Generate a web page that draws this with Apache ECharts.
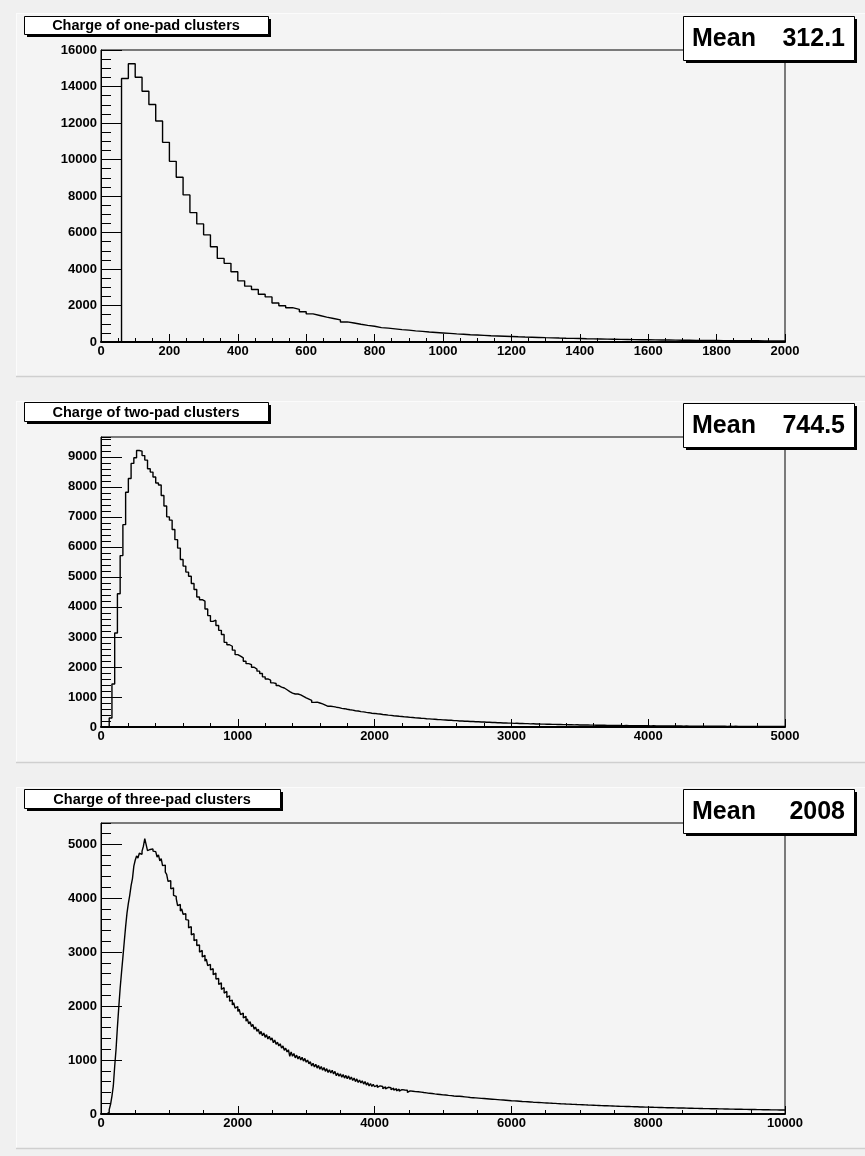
<!DOCTYPE html>
<html><head><meta charset="utf-8">
<script src="https://cdn.jsdelivr.net/npm/echarts@6/dist/echarts.min.js"></script>
<style>html,body{margin:0;padding:0;background:#f0f0f0}#c{width:865px;height:1156px}</style>
</head><body><div id="c"></div><script>
// ---------------- DATA ----------------
const TITLES = ['Charge of one-pad clusters', 'Charge of two-pad clusters', 'Charge of three-pad clusters'];
const MEAN_LABEL = 'Mean';
const MEANS = ['312.1', '744.5', '2008'];
const BIN_WIDTH = [20, 20, 20];
const X_MAX = [2000, 5000, 10000];
const X_MAJOR = [200, 1000, 2000];
const X_MINOR_SPLIT = [4, 5, 4];
const Y_MAX = [16000, 9660, 5390];
const Y_MAJOR = [2000, 1000, 1000];
const Y_MINOR = [500, 200, 200];

const ONE_PAD_COUNTS = [
 0,0,0,14440,15250,14510,13740,13010,12110,10940,
 9900,9030,8060,7090,6470,5870,5220,4580,4310,3850,
 3350,3060,2880,2620,2470,2140,1990,1880,1790,1660,
 1540,1450,1360,1290,1210,1100,1040,970,910,860,
 790,760,720,680,650,610,580,545,520,495,
 470,445,425,400,385,365,345,330,315,300,
 285,272,262,250,238,228,216,206,198,188,
 178,170,163,156,150,143,137,132,126,121,
 116,111,107,102,98,95,91,88,84,81,
 78,75,72,70,67,65,62,60,58,56];

const TWO_PAD_COUNTS = [
 0,0,0,300,1430,3130,4440,5710,6740,7820,
 8280,8780,8970,9210,9190,9040,8890,8600,8490,8330,
 8130,8060,7710,7360,7000,6890,6580,6240,5960,5580,
 5360,5160,5020,4780,4580,4330,4240,4190,3930,3710,
 3520,3560,3380,3220,3080,2820,2740,2690,2560,2410,
 2360,2300,2190,2110,2080,1990,1930,1860,1780,1670,
 1600,1560,1470,1450,1380,1330,1300,1240,1180,1130,
 1100,1100,1070,1020,970,930,890,820,830,800,
 770,730,690,690,680,660,645,620,610,590,
 575,562,541,532,512,503,488,477,460,452,
 440,432,418,410,396,388,376,368,356,350,
 338,333,321,317,304,300,290,286,275,272,
 262,259,248,247,236,234,224,223,213,212,
 202,201,192,192,183,182,174,173,165,165,
 157,157,149,150,142,142,135,136,128,129,
 122,123,116,117,111,112,105,107,100,102,
 95,97,91,93,87,88,82,84,78,80,
 75,77,71,73,68,70,65,67,62,64,
 59,61,56,58,54,55,51,53,49,51,
 47,49,45,47,43,45,41,43,40,41,
 38,40,36,38,35,37,33,35,32,34,
 31,33,30,31,29,30,28,29,27,28,
 26,27,25,26,24,25,23,24,22,24,
 21,23,21,22,20,21,19,21,19,20,
 18,19,18,19,17,18,16,18,16,17];

const THREE_PAD_COUNTS = [
 0,0,0,0,10,30,80,180,330,520,
 880,1200,1610,1980,2330,2620,2900,3190,3470,3720,
 3900,4050,4230,4360,4590,4700,4780,4740,4830,4810,
 4870,4960,5100,4990,4880,4900,4930,4910,4870,4860,
 4850,4760,4800,4690,4730,4600,4610,4480,4440,4310,
 4320,4170,4190,4050,4030,3990,3860,3880,3760,3800,
 3700,3710,3600,3590,3450,3470,3320,3340,3210,3230,
 3120,3130,3000,3030,2910,2940,2830,2870,2750,2770,
 2670,2690,2580,2610,2500,2510,2400,2430,2310,2340,
 2240,2270,2160,2190,2090,2110,2020,2060,1960,1990,
 1900,1940,1840,1870,1780,1810,1720,1760,1670,1710,
 1620,1660,1570,1610,1530,1570,1480,1530,1450,1500,
 1420,1470,1390,1440,1370,1410,1320,1370,1290,1330,
 1260,1300,1220,1260,1180,1220,1150,1190,1070,1150,
 1070,1120,1040,1090,1020,1070,1000,1050,980,1030,
 960,1000,930,970,890,940,870,920,850,900,
 830,880,810,860,790,840,770,820,760,810,
 740,790,710,760,700,745,680,730,665,715,
 655,705,640,685,620,665,600,650,585,630,
 575,615,555,600,535,580,520,565,510,550,
 505,535,495,520,485,510,470,505,465,495,
 458,488,450,478,440,468,430,460,422,452,
 420,445,410,440,400,428,395,422,388,415,
 385,412,378,405,370,398,362,392,358,383,
 352,380,348,372,342,366,335,360,330,354,
 333,352,322,345,318,340,312,334,306,330,
 301,330,296,324,292,318,288,312,285,306,
 280,302,276,298,272,294,268,290,264,286,
 262,282,258,278,254,274,250,270,246,266,
 244,262,240,258,236,254,232,250,229,246,
 226,244,222,240,219,236,216,232,212,229,
 210,226,206,223,203,219,200,216,197,213,
 194,210,191,207,188,204,186,201,183,198,
 181,196,178,193,176,190,173,188,171,185,
 168,183,166,180,164,178,161,175,159,173,
 157,171,155,169,153,166,151,164,149,162,
 147,160,145,158,143,156,141,154,140,152,
 138,150,136,148,135,146,133,144,131,142,
 130,141,128,140,127,138,125,136,124,134,
 122,133,121,131,119,130,118,128,117,127,
 115,126,114,124,113,123,111,121,110,120,
 109,119,108,117,106,116,105,115,104,113,
 103,112,102,111,100,110,99,108,98,107,
 97,106,96,105,95,104,94,103,93,101,
 92,100,91,99,90,98,89,97,88,96,
 87,95,86,94,85,93,84,92,83,91,
 82,90,81,89,80,88,79,87,79,86,
 78,85,77,84,76,83,75,82,75,81,
 74,81,73,80,72,79,72,78,71,77,
 70,77,69,76,69,75,68,74,68,75];

const COUNTS = [ONE_PAD_COUNTS, TWO_PAD_COUNTS, THREE_PAD_COUNTS];

// ---------------- LAYOUT ----------------
const FONT = '"Liberation Sans", Arial, Helvetica, sans-serif';
const GRIDS = [
  {left: 101, top: 50, width: 684, height: 292},
  {left: 101, top: 437, width: 684, height: 290},
  {left: 101, top: 823, width: 684, height: 291}
];
const PADS = [
  {y: 13, h: 364},
  {y: 401, h: 362},
  {y: 787, h: 362}
];
const TITLE_BOX = [
  {x: 24, y: 16, w: 244, h: 18},
  {x: 24, y: 402, w: 244, h: 19},
  {x: 24, y: 789, w: 256, h: 19}
];
const MEAN_BOX = [
  {x: 683, y: 16, w: 171, h: 44},
  {x: 683, y: 403, w: 171, h: 44},
  {x: 683, y: 789, w: 171, h: 44}
];

const chart = echarts.init(document.getElementById('c'), null, {renderer: 'canvas'});

const grid = [], xAxis = [], yAxis = [], series = [], graphic = [];
const plain = v => String(v);

for (let i = 0; i < 3; i++) {
  grid.push(Object.assign({show: true, borderColor: '#000', borderWidth: 1, backgroundColor: 'transparent', containLabel: false}, GRIDS[i]));
  xAxis.push({
    gridIndex: i, type: 'value', min: 0, max: X_MAX[i], interval: X_MAJOR[i],
    axisLine: {show: true, onZero: false, lineStyle: {color: '#000', width: 2}},
    axisTick: {show: true, inside: true, length: 8, lineStyle: {color: '#000', width: 1}},
    minorTick: {show: true, splitNumber: X_MINOR_SPLIT[i], length: 4, lineStyle: {color: '#000', width: 1}},
    splitLine: {show: false}, minorSplitLine: {show: false},
    axisLabel: {color: '#000', fontWeight: 'bold', fontSize: 13, fontFamily: FONT, margin: 3, formatter: plain}
  });
  yAxis.push({
    gridIndex: i, type: 'value', min: 0, max: Y_MAX[i], interval: Y_MAJOR[i], position: 'left',
    axisLine: {show: true, onZero: false, lineStyle: {color: '#000', width: 1}},
    axisTick: {show: true, inside: true, length: 21, lineStyle: {color: '#000', width: 1}},
    splitLine: {show: false},
    axisLabel: {color: '#000', fontWeight: 'bold', fontSize: 13, fontFamily: FONT, margin: 4,
                showMaxLabel: Y_MAX[i] % Y_MAJOR[i] === 0, formatter: plain}
  });
  yAxis.push({
    gridIndex: i, type: 'value', min: 0, max: Y_MAX[i], interval: Y_MINOR[i], position: 'left',
    axisLine: {show: false},
    axisTick: {show: true, inside: true, length: 10, lineStyle: {color: '#000', width: 1}},
    splitLine: {show: false}, axisLabel: {show: false}
  });
  const w = BIN_WIDTH[i];
  const c = COUNTS[i];
  const data = c.map((v, k) => [k * w, v]);
  data.push([c.length * w, c[c.length - 1]]);
  series.push({
    type: 'line', xAxisIndex: i, yAxisIndex: 2 * i, data: data, step: 'end',
    symbol: 'none', showSymbol: false, silent: true, clip: true,
    lineStyle: {color: '#000', width: 1.4}, z: 3
  });

  // pad background
  const p = PADS[i];
  graphic.push({type: 'rect', shape: {x: 16, y: p.y, width: 849, height: p.h}, style: {fill: '#f4f4f4'}, z: -100, silent: true});
  graphic.push({type: 'line', shape: {x1: 16, y1: p.y + 0.5, x2: 865, y2: p.y + 0.5}, style: {stroke: '#fbfbfb', lineWidth: 1}, z: -99, silent: true});
  graphic.push({type: 'line', shape: {x1: 16.5, y1: p.y, x2: 16.5, y2: p.y + p.h}, style: {stroke: '#fbfbfb', lineWidth: 1}, z: -99, silent: true});
  graphic.push({type: 'line', shape: {x1: 16, y1: p.y + p.h - 0.5, x2: 865, y2: p.y + p.h - 0.5}, style: {stroke: '#cfcfcf', lineWidth: 1.5}, z: -99, silent: true});

  // title box
  const t = TITLE_BOX[i];
  graphic.push({type: 'rect', shape: {x: t.x + 3, y: t.y + 3, width: t.w, height: t.h}, style: {fill: '#000'}, z: 100, silent: true});
  graphic.push({type: 'rect', shape: {x: t.x + 0.5, y: t.y + 0.5, width: t.w, height: t.h}, style: {fill: '#fff', stroke: '#000', lineWidth: 1}, z: 101, silent: true});
  graphic.push({type: 'text', x: t.x + t.w / 2, y: t.y + t.h / 2 + 1, style: {text: TITLES[i], fill: '#000', font: 'bold 14.5px ' + FONT, align: 'center', verticalAlign: 'middle'}, z: 102, silent: true});

  // mean box
  const m = MEAN_BOX[i];
  graphic.push({type: 'rect', shape: {x: m.x + 3, y: m.y + 3, width: m.w, height: m.h}, style: {fill: '#000'}, z: 100, silent: true});
  graphic.push({type: 'rect', shape: {x: m.x + 0.5, y: m.y + 0.5, width: m.w, height: m.h}, style: {fill: '#fff', stroke: '#000', lineWidth: 1}, z: 101, silent: true});
  graphic.push({type: 'text', x: m.x + 9, y: m.y + m.h / 2 + 1, style: {text: MEAN_LABEL, fill: '#000', font: 'bold 25px ' + FONT, align: 'left', verticalAlign: 'middle'}, z: 102, silent: true});
  graphic.push({type: 'text', x: m.x + m.w - 9, y: m.y + m.h / 2 + 1, style: {text: MEANS[i], fill: '#000', font: 'bold 25px ' + FONT, align: 'right', verticalAlign: 'middle'}, z: 102, silent: true});
}

chart.setOption({
  animation: false,
  backgroundColor: '#f0f0f0',
  grid: grid, xAxis: xAxis, yAxis: yAxis, series: series,
  graphic: {elements: graphic}
});
</script></body></html>
